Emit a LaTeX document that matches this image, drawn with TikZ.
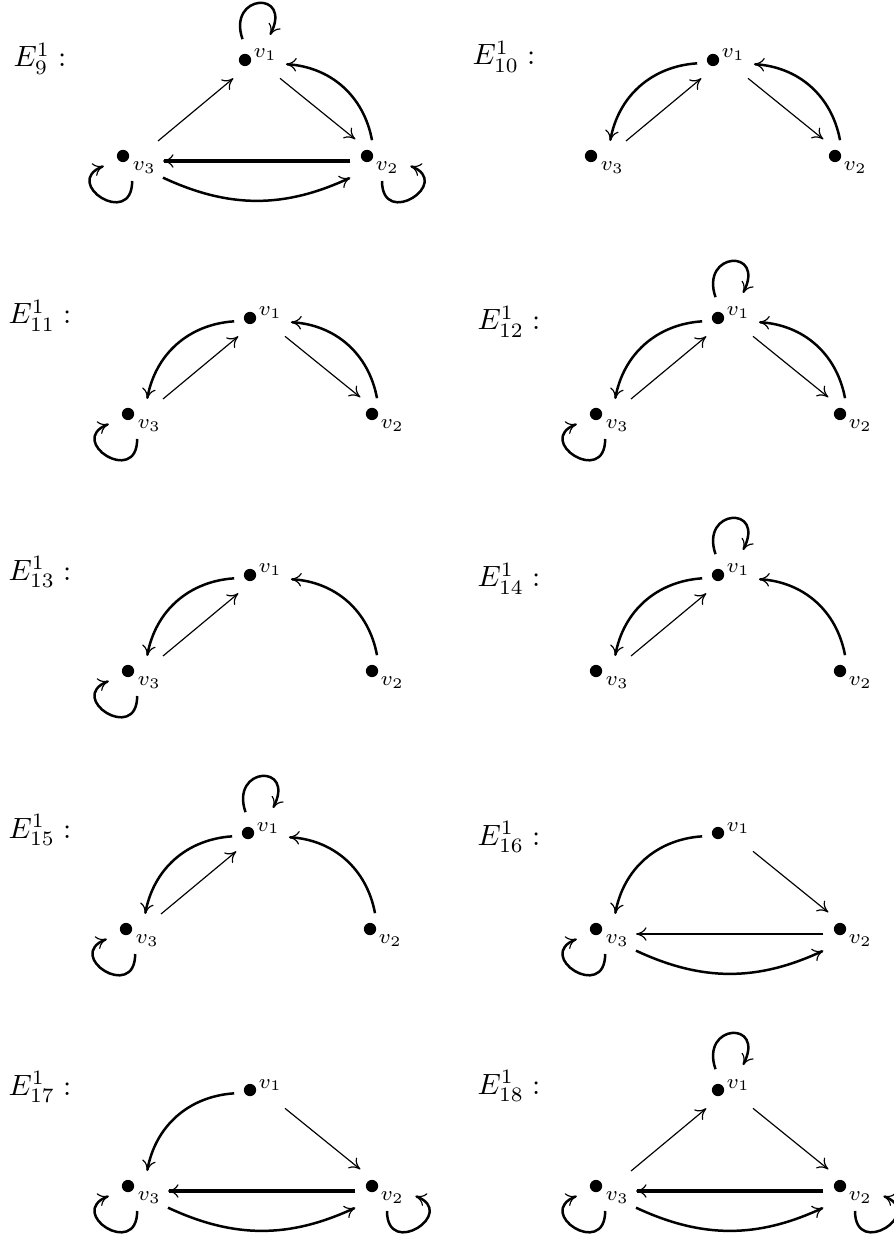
\documentclass[tikz,border=0pt]{standalone}
\usetikzlibrary{arrows.meta,calc}

\begin{document}
\begin{tikzpicture}[scale=1,
	dot/.style={circle, fill, inner sep=0pt, minimum size=4.2pt},
	lab/.style={font=\scriptsize, inner sep=0pt, anchor=base west},
	nm/.style={inner sep=0pt, anchor=base west},
	tip/.style={-{Computer Modern Rightarrow[length=3.6pt, width=4.6pt, line width=0.4pt]}},
	ar/.style={tip, line width=0.4pt},
	bar/.style={tip, line width=0.85pt},
	hbar/.style={tip, line width=1.1pt}]

	\useasboundingbox (0,0) rectangle (10.716,-14.868);

	% E_9
	\begin{scope}[name prefix=e9-]
		\node[dot] (v1) at (2.94,-0.72) {};
		\node[dot] (v3) at ($(v1)+(-1.464,-1.152)$) {};
		\node[dot] (v2) at ($(v1)+(1.464,-1.152)$) {};
		\node[lab] (t1) at ($(v1)+(0.096,0.024)$) {$v_1$};
		\node[lab] (t3) at ($(v3)+(0.108,-0.17)$) {$v_3$};
		\node[lab] (t2) at ($(v2)+(0.096,-0.17)$) {$v_2$};
		\node[nm] (name) at ($(v1)+(-2.784,-0.084)$) {$E^1_{9}:$};
		\draw[bar] ($(v1)+(-0.03,0.25)$) .. controls +(-0.19,0.55) and +(0.28,0.54) .. ($(v1)+(0.30,0.30)$);
		\draw[bar] ($(v3)+(0.11,-0.30)$) .. controls +(0,-0.58) and +(-0.52,-0.2) .. ($(v3)+(-0.23,-0.12)$);
		\draw[bar] ($(v2)+(0.18,-0.30)$) .. controls +(0,-0.58) and +(0.52,-0.2) .. ($(v2)+(0.52,-0.12)$);
		\draw[ar] ($(v3)+(0.42,0.18)$) -- ($(v1)+(-0.14,-0.22)$);
		\draw[ar] ($(v1)+(0.42,-0.22)$) -- ($(v2)+(-0.14,0.20)$);
		\draw[bar] ($(v2)+(0.06,0.19)$) to[bend right=38] ($(v1)+(0.49,-0.05)$);
		\draw[hbar] ($(v2)+(-0.20,-0.06)$) -- ($(v3)+(0.48,-0.06)$);
		\draw[bar] ($(v3)+(0.48,-0.26)$) to[bend right=25] ($(v2)+(-0.20,-0.26)$);
	\end{scope}

	% E_10
	\begin{scope}[name prefix=e10-]
		\node[dot] (v1) at (8.556,-0.72) {};
		\node[dot] (v3) at ($(v1)+(-1.464,-1.152)$) {};
		\node[dot] (v2) at ($(v1)+(1.464,-1.152)$) {};
		\node[lab] (t1) at ($(v1)+(0.096,0.024)$) {$v_1$};
		\node[lab] (t3) at ($(v3)+(0.108,-0.17)$) {$v_3$};
		\node[lab] (t2) at ($(v2)+(0.096,-0.17)$) {$v_2$};
		\node[nm] (name) at ($(v1)+(-2.892,-0.06)$) {$E^1_{10}:$};
		\draw[bar] ($(v1)+(-0.19,-0.04)$) to[bend right=38] ($(v3)+(0.23,0.18)$);
		\draw[ar] ($(v3)+(0.42,0.18)$) -- ($(v1)+(-0.14,-0.22)$);
		\draw[ar] ($(v1)+(0.42,-0.22)$) -- ($(v2)+(-0.14,0.20)$);
		\draw[bar] ($(v2)+(0.06,0.19)$) to[bend right=38] ($(v1)+(0.49,-0.05)$);
	\end{scope}

	% E_11
	\begin{scope}[name prefix=e11-]
		\node[dot] (v1) at (3.00,-3.816) {};
		\node[dot] (v3) at ($(v1)+(-1.464,-1.152)$) {};
		\node[dot] (v2) at ($(v1)+(1.464,-1.152)$) {};
		\node[lab] (t1) at ($(v1)+(0.096,0.024)$) {$v_1$};
		\node[lab] (t3) at ($(v3)+(0.108,-0.17)$) {$v_3$};
		\node[lab] (t2) at ($(v2)+(0.096,-0.17)$) {$v_2$};
		\node[nm] (name) at ($(v1)+(-2.904,-0.072)$) {$E^1_{11}:$};
		\draw[bar] ($(v3)+(0.11,-0.30)$) .. controls +(0,-0.58) and +(-0.52,-0.2) .. ($(v3)+(-0.23,-0.12)$);
		\draw[bar] ($(v1)+(-0.19,-0.04)$) to[bend right=38] ($(v3)+(0.23,0.18)$);
		\draw[ar] ($(v3)+(0.42,0.18)$) -- ($(v1)+(-0.14,-0.22)$);
		\draw[ar] ($(v1)+(0.42,-0.22)$) -- ($(v2)+(-0.14,0.20)$);
		\draw[bar] ($(v2)+(0.06,0.19)$) to[bend right=38] ($(v1)+(0.49,-0.05)$);
	\end{scope}

	% E_12
	\begin{scope}[name prefix=e12-]
		\node[dot] (v1) at (8.616,-3.816) {};
		\node[dot] (v3) at ($(v1)+(-1.464,-1.152)$) {};
		\node[dot] (v2) at ($(v1)+(1.464,-1.152)$) {};
		\node[lab] (t1) at ($(v1)+(0.096,0.024)$) {$v_1$};
		\node[lab] (t3) at ($(v3)+(0.108,-0.17)$) {$v_3$};
		\node[lab] (t2) at ($(v2)+(0.096,-0.17)$) {$v_2$};
		\node[nm] (name) at ($(v1)+(-2.892,-0.144)$) {$E^1_{12}:$};
		\draw[bar] ($(v1)+(-0.03,0.25)$) .. controls +(-0.19,0.55) and +(0.28,0.54) .. ($(v1)+(0.30,0.30)$);
		\draw[bar] ($(v3)+(0.11,-0.30)$) .. controls +(0,-0.58) and +(-0.52,-0.2) .. ($(v3)+(-0.23,-0.12)$);
		\draw[bar] ($(v1)+(-0.19,-0.04)$) to[bend right=38] ($(v3)+(0.23,0.18)$);
		\draw[ar] ($(v3)+(0.42,0.18)$) -- ($(v1)+(-0.14,-0.22)$);
		\draw[ar] ($(v1)+(0.42,-0.22)$) -- ($(v2)+(-0.14,0.20)$);
		\draw[bar] ($(v2)+(0.06,0.19)$) to[bend right=38] ($(v1)+(0.49,-0.05)$);
	\end{scope}

	% E_13
	\begin{scope}[name prefix=e13-]
		\node[dot] (v1) at (3.00,-6.90) {};
		\node[dot] (v3) at ($(v1)+(-1.464,-1.152)$) {};
		\node[dot] (v2) at ($(v1)+(1.464,-1.152)$) {};
		\node[lab] (t1) at ($(v1)+(0.096,0.024)$) {$v_1$};
		\node[lab] (t3) at ($(v3)+(0.108,-0.17)$) {$v_3$};
		\node[lab] (t2) at ($(v2)+(0.096,-0.17)$) {$v_2$};
		\node[nm] (name) at ($(v1)+(-2.904,-0.06)$) {$E^1_{13}:$};
		\draw[bar] ($(v3)+(0.11,-0.30)$) .. controls +(0,-0.58) and +(-0.52,-0.2) .. ($(v3)+(-0.23,-0.12)$);
		\draw[bar] ($(v1)+(-0.19,-0.04)$) to[bend right=38] ($(v3)+(0.23,0.18)$);
		\draw[ar] ($(v3)+(0.42,0.18)$) -- ($(v1)+(-0.14,-0.22)$);
		\draw[bar] ($(v2)+(0.06,0.19)$) to[bend right=38] ($(v1)+(0.49,-0.05)$);
	\end{scope}

	% E_14
	\begin{scope}[name prefix=e14-]
		\node[dot] (v1) at (8.616,-6.90) {};
		\node[dot] (v3) at ($(v1)+(-1.464,-1.152)$) {};
		\node[dot] (v2) at ($(v1)+(1.464,-1.152)$) {};
		\node[lab] (t1) at ($(v1)+(0.096,0.024)$) {$v_1$};
		\node[lab] (t3) at ($(v3)+(0.108,-0.17)$) {$v_3$};
		\node[lab] (t2) at ($(v2)+(0.096,-0.17)$) {$v_2$};
		\node[nm] (name) at ($(v1)+(-2.892,-0.144)$) {$E^1_{14}:$};
		\draw[bar] ($(v1)+(-0.03,0.25)$) .. controls +(-0.19,0.55) and +(0.28,0.54) .. ($(v1)+(0.30,0.30)$);
		\draw[bar] ($(v1)+(-0.19,-0.04)$) to[bend right=38] ($(v3)+(0.23,0.18)$);
		\draw[ar] ($(v3)+(0.42,0.18)$) -- ($(v1)+(-0.14,-0.22)$);
		\draw[bar] ($(v2)+(0.06,0.19)$) to[bend right=38] ($(v1)+(0.49,-0.05)$);
	\end{scope}

	% E_15
	\begin{scope}[name prefix=e15-]
		\node[dot] (v1) at (2.976,-9.996) {};
		\node[dot] (v3) at ($(v1)+(-1.464,-1.152)$) {};
		\node[dot] (v2) at ($(v1)+(1.464,-1.152)$) {};
		\node[lab] (t1) at ($(v1)+(0.096,0.024)$) {$v_1$};
		\node[lab] (t3) at ($(v3)+(0.108,-0.17)$) {$v_3$};
		\node[lab] (t2) at ($(v2)+(0.096,-0.17)$) {$v_2$};
		\node[nm] (name) at ($(v1)+(-2.88,-0.06)$) {$E^1_{15}:$};
		\draw[bar] ($(v1)+(-0.03,0.25)$) .. controls +(-0.19,0.55) and +(0.28,0.54) .. ($(v1)+(0.30,0.30)$);
		\draw[bar] ($(v3)+(0.11,-0.30)$) .. controls +(0,-0.58) and +(-0.52,-0.2) .. ($(v3)+(-0.23,-0.12)$);
		\draw[bar] ($(v1)+(-0.19,-0.04)$) to[bend right=38] ($(v3)+(0.23,0.18)$);
		\draw[ar] ($(v3)+(0.42,0.18)$) -- ($(v1)+(-0.14,-0.22)$);
		\draw[bar] ($(v2)+(0.06,0.19)$) to[bend right=38] ($(v1)+(0.49,-0.05)$);
	\end{scope}

	% E_16
	\begin{scope}[name prefix=e16-]
		\node[dot] (v1) at (8.616,-9.996) {};
		\node[dot] (v3) at ($(v1)+(-1.464,-1.152)$) {};
		\node[dot] (v2) at ($(v1)+(1.464,-1.152)$) {};
		\node[lab] (t1) at ($(v1)+(0.096,0.024)$) {$v_1$};
		\node[lab] (t3) at ($(v3)+(0.108,-0.17)$) {$v_3$};
		\node[lab] (t2) at ($(v2)+(0.096,-0.17)$) {$v_2$};
		\node[nm] (name) at ($(v1)+(-2.892,-0.144)$) {$E^1_{16}:$};
		\draw[bar] ($(v3)+(0.11,-0.30)$) .. controls +(0,-0.58) and +(-0.52,-0.2) .. ($(v3)+(-0.23,-0.12)$);
		\draw[bar] ($(v1)+(-0.19,-0.04)$) to[bend right=38] ($(v3)+(0.23,0.18)$);
		\draw[ar] ($(v1)+(0.42,-0.22)$) -- ($(v2)+(-0.14,0.20)$);
		\draw[bar] ($(v2)+(-0.20,-0.06)$) -- ($(v3)+(0.48,-0.06)$);
		\draw[bar] ($(v3)+(0.48,-0.26)$) to[bend right=25] ($(v2)+(-0.20,-0.26)$);
	\end{scope}

	% E_17
	\begin{scope}[name prefix=e17-]
		\node[dot] (v1) at (3.00,-13.08) {};
		\node[dot] (v3) at ($(v1)+(-1.464,-1.152)$) {};
		\node[dot] (v2) at ($(v1)+(1.464,-1.152)$) {};
		\node[lab] (t1) at ($(v1)+(0.096,0.024)$) {$v_1$};
		\node[lab] (t3) at ($(v3)+(0.108,-0.17)$) {$v_3$};
		\node[lab] (t2) at ($(v2)+(0.096,-0.17)$) {$v_2$};
		\node[nm] (name) at ($(v1)+(-2.904,-0.06)$) {$E^1_{17}:$};
		\draw[bar] ($(v3)+(0.11,-0.30)$) .. controls +(0,-0.58) and +(-0.52,-0.2) .. ($(v3)+(-0.23,-0.12)$);
		\draw[bar] ($(v2)+(0.18,-0.30)$) .. controls +(0,-0.58) and +(0.52,-0.2) .. ($(v2)+(0.52,-0.12)$);
		\draw[bar] ($(v1)+(-0.19,-0.04)$) to[bend right=38] ($(v3)+(0.23,0.18)$);
		\draw[ar] ($(v1)+(0.42,-0.22)$) -- ($(v2)+(-0.14,0.20)$);
		\draw[hbar] ($(v2)+(-0.20,-0.06)$) -- ($(v3)+(0.48,-0.06)$);
		\draw[bar] ($(v3)+(0.48,-0.26)$) to[bend right=25] ($(v2)+(-0.20,-0.26)$);
	\end{scope}

	% E_18
	\begin{scope}[name prefix=e18-]
		\node[dot] (v1) at (8.616,-13.08) {};
		\node[dot] (v3) at ($(v1)+(-1.464,-1.152)$) {};
		\node[dot] (v2) at ($(v1)+(1.464,-1.152)$) {};
		\node[lab] (t1) at ($(v1)+(0.096,0.024)$) {$v_1$};
		\node[lab] (t3) at ($(v3)+(0.108,-0.17)$) {$v_3$};
		\node[lab] (t2) at ($(v2)+(0.096,-0.17)$) {$v_2$};
		\node[nm] (name) at ($(v1)+(-2.892,-0.048)$) {$E^1_{18}:$};
		\draw[bar] ($(v1)+(-0.03,0.25)$) .. controls +(-0.19,0.55) and +(0.28,0.54) .. ($(v1)+(0.30,0.30)$);
		\draw[bar] ($(v3)+(0.11,-0.30)$) .. controls +(0,-0.58) and +(-0.52,-0.2) .. ($(v3)+(-0.23,-0.12)$);
		\draw[bar] ($(v2)+(0.18,-0.30)$) .. controls +(0,-0.58) and +(0.52,-0.2) .. ($(v2)+(0.52,-0.12)$);
		\draw[ar] ($(v3)+(0.42,0.18)$) -- ($(v1)+(-0.14,-0.22)$);
		\draw[ar] ($(v1)+(0.42,-0.22)$) -- ($(v2)+(-0.14,0.20)$);
		\draw[hbar] ($(v2)+(-0.20,-0.06)$) -- ($(v3)+(0.48,-0.06)$);
		\draw[bar] ($(v3)+(0.48,-0.26)$) to[bend right=25] ($(v2)+(-0.20,-0.26)$);
	\end{scope}

\end{tikzpicture}
\end{document}
